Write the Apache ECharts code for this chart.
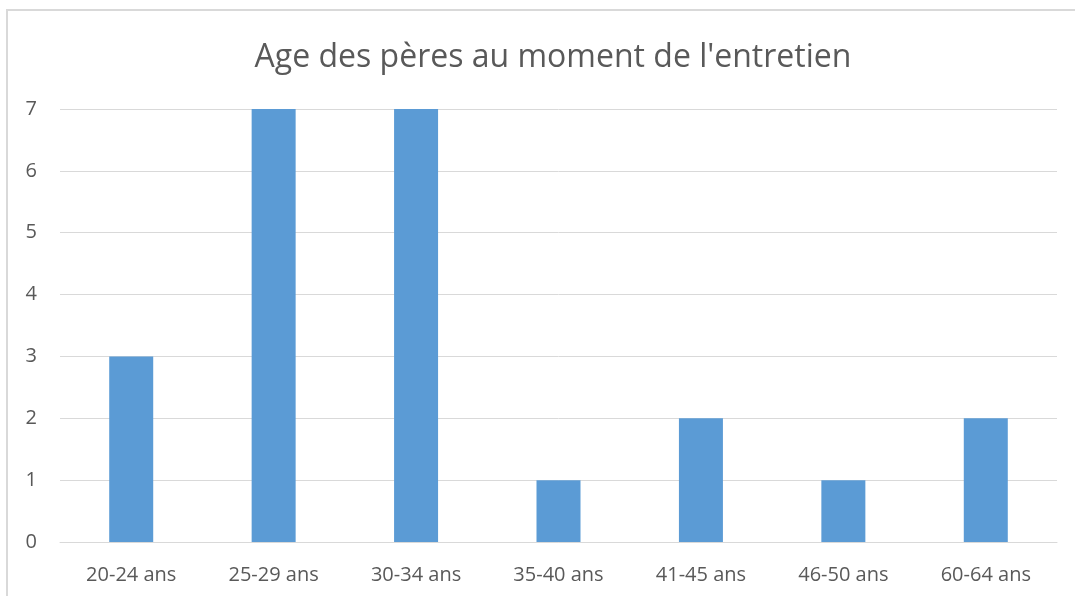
<!DOCTYPE html>
<html>
<head>
<meta charset="utf-8">
<script src="https://cdn.jsdelivr.net/npm/echarts@6/dist/echarts.min.js"></script>
<style>
  html, body { margin: 0; padding: 0; background: #fff; }
  #main { width: 1075px; height: 596px; }
</style>
</head>
<body>
<div id="main"></div>
<script>
// tranches d'age
const categories = ["20-24 ans", "25-29 ans", "30-34 ans", "35-40 ans", "41-45 ans", "46-50 ans", "60-64 ans"];
const values = [3, 7, 7, 1, 2, 1, 2];
const yTicks = [0, 1, 2, 3, 4, 5, 6, 7];

const chart = echarts.init(document.getElementById("main"));
const option = {
  animation: false,
  textStyle: { fontFamily: "Open Sans, Liberation Sans, sans-serif" },
  graphic: [{
    type: "rect",
    shape: { x: 7, y: 10, width: 1100, height: 620 },
    style: { fill: "none", stroke: "#d9d9d9", lineWidth: 2 },
    silent: true
  }],
  title: {
    text: "Age des pères au moment de l'entretien",
    left: 548,
    top: 37,
    textAlign: "center",
    textStyle: { color: "#595959", fontSize: 32, fontWeight: "normal" }
  },
  grid: { left: 60, right: 18, top: 109, bottom: 54, containLabel: false },
  xAxis: {
    type: "category",
    data: categories,
    axisLine: { lineStyle: { color: "#d9d9d9", width: 1 } },
    axisTick: { show: false },
    axisLabel: { color: "#595959", fontSize: 20, margin: 23 }
  },
  yAxis: {
    type: "value",
    min: yTicks[0],
    max: yTicks[yTicks.length - 1],
    interval: 1,
    axisLine: { show: false },
    axisTick: { show: false },
    axisLabel: { color: "#595959", fontSize: 20, margin: 23 },
    splitLine: { lineStyle: { color: "#d9d9d9", width: 1 } }
  },
  series: [{
    type: "bar",
    data: values,
    barWidth: 44,
    itemStyle: { color: "#5b9bd5" }
  }]
};
chart.setOption(option);
</script>
</body>
</html>
